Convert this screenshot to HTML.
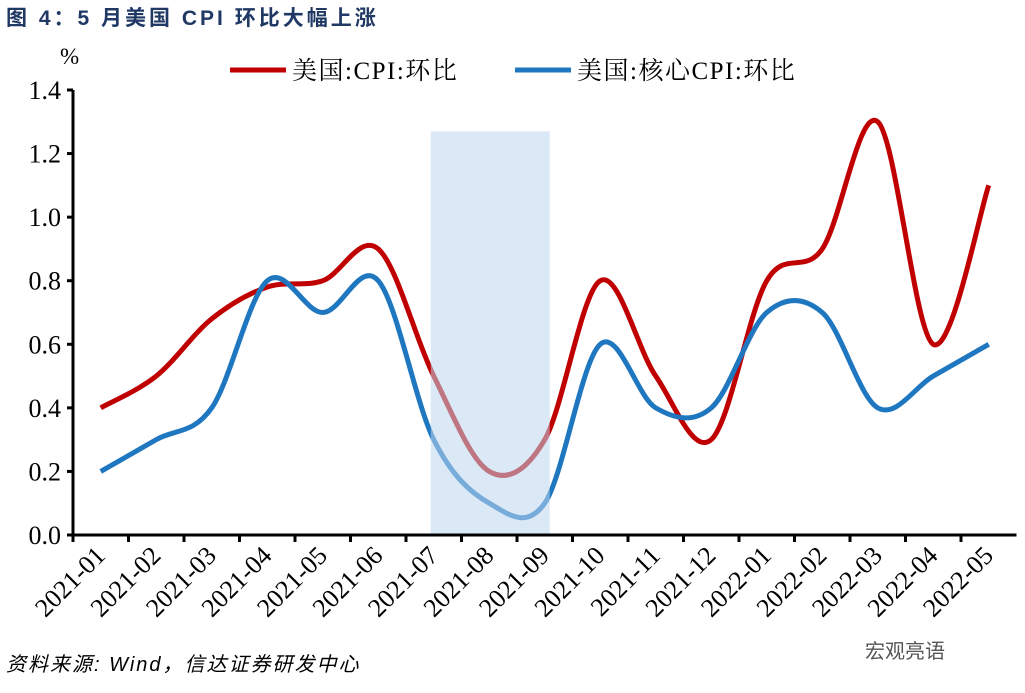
<!DOCTYPE html>
<html><head><meta charset="utf-8"><style>
body{margin:0;background:#fff;width:1025px;height:693px;overflow:hidden}
svg{display:block}
</style></head><body>
<svg id="chart" width="1025" height="693" xmlns="http://www.w3.org/2000/svg">
<text x="6" y="25" font-family="'Liberation Sans','Noto Sans CJK SC',sans-serif" font-size="21" font-weight="bold" letter-spacing="3" fill="#1f3864">图  4：5 月美国 CPI 环比大幅上涨</text>
<text x="60" y="64" font-family="'Liberation Serif',serif" font-size="23">%</text>
<g>
<line x1="230" y1="70" x2="286" y2="70" stroke="#c00000" stroke-width="5"/>
<text x="292" y="79" font-family="'Liberation Serif','Noto Serif CJK SC',serif" font-size="25" letter-spacing="1.5">美国:CPI:环比</text>
<line x1="515" y1="70" x2="571" y2="70" stroke="#1f77c0" stroke-width="5"/>
<text x="577" y="79" font-family="'Liberation Serif','Noto Serif CJK SC',serif" font-size="25" letter-spacing="1.5">美国:核心CPI:环比</text>
</g>
<g id="plot"></g>
<text x="6" y="671" font-family="'Liberation Sans','Noto Sans CJK SC',sans-serif" font-size="20" font-style="italic" letter-spacing="2">资料来源: Wind，信达证券研发中心</text>
<text x="865" y="658" font-family="'Liberation Sans','Noto Sans CJK SC',sans-serif" font-size="20" fill="#555">宏观亮语</text>
</svg>
<script>
const categories=["2021-01","2021-02","2021-03","2021-04","2021-05","2021-06","2021-07","2021-08","2021-09","2021-10","2021-11","2021-12","2022-01","2022-02","2022-03","2022-04","2022-05"];
const cpiValues=[0.4,0.5,0.68,0.78,0.8,0.9,0.5,0.2,0.3,0.8,0.5,0.3,0.8,0.9,1.3,0.6,1.1];
const coreValues=[0.2,0.3,0.4,0.8,0.7,0.8,0.3,0.1,0.1,0.6,0.4,0.4,0.7,0.7,0.4,0.5,0.6];
const yTicks=[0,0.2,0.4,0.6,0.8,1.0,1.2,1.4];
const shadeStart=6, shadeEnd=8, shadeTop=1.27;
const NS="http://www.w3.org/2000/svg";
const x0=73,band=55.5,yBase=535,yTop=90,yMax=1.4;
const X=i=>x0+band*(i+0.5);
const Y=v=>yBase-(v/yMax)*(yBase-yTop);
const g=document.getElementById('plot');
function mk(t,a){const e=document.createElementNS(NS,t);for(const k in a)e.setAttribute(k,a[k]);g.appendChild(e);return e;}
function smooth(vals){const p=vals.map((v,i)=>[X(i),Y(v)]);let d=`M${p[0][0]},${p[0][1]}`;
for(let i=0;i<p.length-1;i++){const a=p[i-1]||p[i],b=p[i],c=p[i+1],e=p[i+2]||c;
d+=` C${b[0]+(c[0]-a[0])/6},${b[1]+(c[1]-a[1])/6} ${c[0]-(e[0]-b[0])/6},${c[1]-(e[1]-b[1])/6} ${c[0]},${c[1]}`;}return d;}
let e;
e=mk('path',{d:smooth(cpiValues),fill:'none',stroke:'#c00000','stroke-width':5});


e=mk('path',{d:smooth(coreValues),fill:'none',stroke:'#1f77c0','stroke-width':5});


e=mk('rect',{x:X(shadeStart)-3,y:Y(shadeTop),width:X(shadeEnd)-X(shadeStart)+8,height:yBase-Y(shadeTop),fill:'#bdd7ee','fill-opacity':0.55});


e=mk('line',{x1:x0,y1:yTop,x2:x0,y2:yBase+1,stroke:'#000','stroke-width':3});


e=mk('line',{x1:x0-6,y1:yBase,x2:x0+band*categories.length,y2:yBase,stroke:'#000','stroke-width':3});


yTicks.forEach(v=>{
 e=mk('line',{x1:x0-6,y1:Y(v),x2:x0,y2:Y(v),stroke:'#000','stroke-width':3});
 
 
 e=mk('text',{x:x0-12,y:Y(v)+9,'text-anchor':'end','font-family':"'Liberation Serif',serif",'font-size':26});
 e.textContent=v.toFixed(1);
 
 
});
categories.forEach((c,i)=>{
 e=mk('line',{x1:x0+band*i,y1:yBase,x2:x0+band*i,y2:yBase+7,stroke:'#000','stroke-width':3});
 
 
 const tx=X(i)+6,ty=yBase+22;
 e=mk('text',{x:tx,y:ty,'text-anchor':'end','font-family':"'Liberation Serif',serif",'font-size':26,transform:`rotate(-45 ${tx} ${ty})`});
 e.textContent=c;
 
 
});
</script>
</body></html>
